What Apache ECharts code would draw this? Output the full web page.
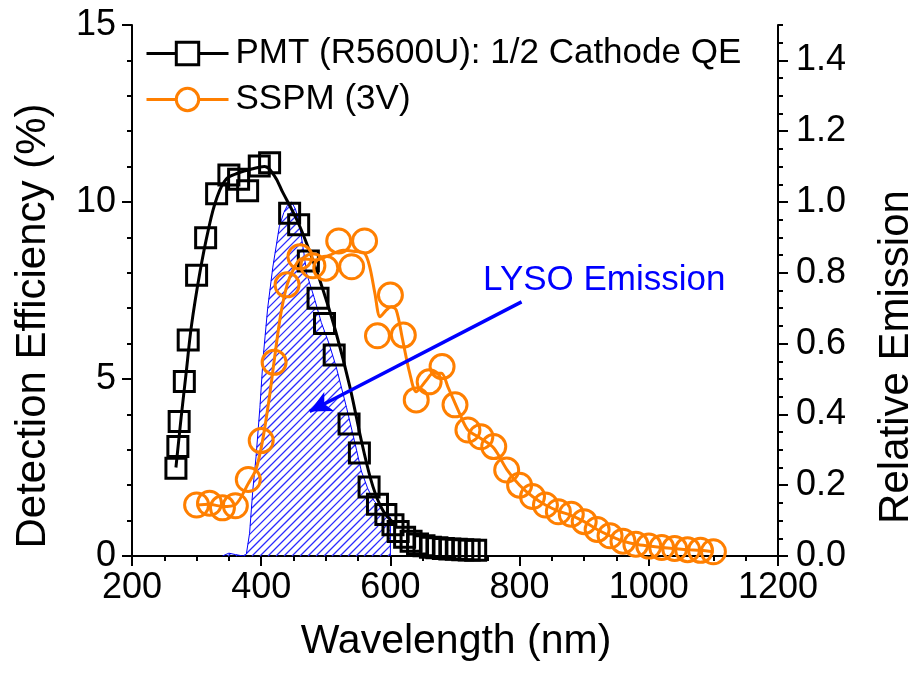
<!DOCTYPE html>
<html>
<head>
<meta charset="utf-8">
<script src="https://cdn.jsdelivr.net/npm/echarts@6/dist/echarts.min.js"></script>
<style>
  html, body { margin: 0; padding: 0; background: #ffffff; }
  #chart { width: 917px; height: 673px; }
</style>
</head>
<body>
<div id="chart"></div>
<script>
// PMT (R5600U) half cathode QE, measured points (nm, %)
const pmtWavelength = [268, 271, 273, 281, 287, 300, 314, 331, 350, 365, 379, 397, 413,
  444, 458, 473, 488, 498, 513, 536, 552, 567, 580, 593, 604, 612, 622, 632, 642, 652,
  662, 672, 682, 692, 702, 712, 722, 732];
const pmtQE = [2.48, 3.09, 3.80, 4.93, 6.10, 7.93, 8.99, 10.23, 10.76, 10.64, 10.32, 11.02, 11.11,
  9.68, 9.36, 8.33, 7.28, 6.57, 5.68, 3.73, 2.91, 1.95, 1.46, 1.17, 0.88, 0.69, 0.53, 0.42, 0.34, 0.29,
  0.25, 0.23, 0.21, 0.20, 0.19, 0.18, 0.17, 0.16];

// Smooth fit through the PMT points
const pmtFitWavelength = [268, 276, 284, 292, 305, 318, 331, 346, 365, 385, 405, 420, 434,
  447, 460, 475, 496, 516, 537, 557, 573, 588, 604];
const pmtFitQE = [2.5, 3.9, 5.2, 6.5, 8.0, 9.2, 10.1, 10.65, 10.82, 10.93, 11.0, 10.75, 10.25,
  9.8, 9.3, 8.6, 7.5, 6.3, 4.8, 3.1, 1.96, 1.3, 0.95];

// SSPM at 3 V bias, measured points (nm, %)
const sspmWavelength = [300, 320, 340, 360, 380, 400, 420, 440, 460, 480, 500, 520, 540, 560,
  580, 600, 620, 640, 660, 680, 700, 720, 740, 760, 780, 800, 820, 840, 860, 880, 900, 920,
  940, 960, 980, 1000, 1020, 1040, 1060, 1080, 1100];
const sspmPDE = [1.44, 1.49, 1.36, 1.42, 2.16, 3.26, 5.47, 7.66, 8.45, 8.2, 8.13, 8.9, 8.17, 8.9,
  6.22, 7.37, 6.24, 4.41, 4.92, 5.35, 4.27, 3.56, 3.37, 3.09, 2.43, 2.0, 1.68, 1.44, 1.25, 1.18,
  0.97, 0.75, 0.57, 0.42, 0.33, 0.28, 0.24, 0.21, 0.18, 0.16, 0.12];

// Smoothed SSPM trace
const sspmCurveWavelength = [300, 320, 340, 360, 380, 392, 402, 412, 420, 430, 440, 450, 462,
  485, 506, 527, 547, 560, 568, 576, 584, 594, 601, 609, 619, 630, 640, 656, 666, 679, 689, 707,
  720, 740, 760, 780, 800, 820, 840, 860, 880, 900, 920, 940, 960, 980, 1000, 1020, 1040, 1060,
  1080, 1100];
const sspmCurvePDE = [1.44, 1.46, 1.40, 1.45, 2.05, 2.45, 3.25, 4.4, 5.5, 6.8, 7.65, 8.1, 8.4,
  8.36, 8.5, 8.64, 8.6, 8.55, 8.17, 7.42, 6.76, 6.95, 7.04, 6.95, 6.1, 5.16, 4.64, 4.97, 5.16, 5.16,
  4.78, 4.03, 3.56, 3.32, 3.05, 2.45, 2.0, 1.68, 1.44, 1.27, 1.15, 0.97, 0.75, 0.57, 0.42, 0.33,
  0.28, 0.24, 0.21, 0.18, 0.16, 0.12];

// LYSO emission spectrum, relative units (right axis)
const lysoWavelength = [340, 350, 360, 372, 377, 382, 387, 392, 398, 403, 410, 418, 428, 435,
  441, 447, 453, 459, 467, 470, 482, 493, 505, 516, 532, 545, 555, 565, 575, 588, 600, 600];
const lysoEmission = [0, 0.008, 0.004, 0, 0.005, 0.064, 0.186, 0.28, 0.42, 0.56, 0.70, 0.816,
  0.93, 0.97, 0.992, 1.0, 0.98, 0.94, 0.845, 0.80, 0.73, 0.66, 0.60, 0.535, 0.42, 0.32, 0.24,
  0.19, 0.155, 0.13, 0.11, 0];

// Annotation anchors in data units (left axis)
const lysoLabelAt = [742.6, 7.8];
const lysoArrowFrom = [803, 7.18];
const lysoArrowTo = [475, 4.08];

const pmtName = 'PMT (R5600U): 1/2 Cathode QE';
const sspmName = 'SSPM (3V)';
const FONT = '"Liberation Sans", Arial, Helvetica, sans-serif';
const ORANGE = '#ff7f00';
const BLUE = '#0000ff';
const HATCH_BLUE = '#2b2bff';
const HATCH_STEP = 8;

function pairs(xs, ys) { return xs.map((x, i) => [x, ys[i]]); }

// Diagonal hatching clipped to the emission polygon (pixel space, from axis coords)
function renderHatch(params, api) {
  if (params.dataIndexInside !== 0) return null;
  const poly = lysoWavelength.map((x, i) => api.coord([x, lysoEmission[i]]));
  let kMin = Infinity, kMax = -Infinity;
  poly.forEach(p => { kMin = Math.min(kMin, p[0] + p[1]); kMax = Math.max(kMax, p[0] + p[1]); });
  const children = [];
  for (let k = Math.ceil(kMin / HATCH_STEP) * HATCH_STEP; k <= kMax; k += HATCH_STEP) {
    const hits = [];
    for (let i = 0; i < poly.length; i++) {
      const a = poly[i], b = poly[(i + 1) % poly.length];
      const sa = a[0] + a[1] - k, sb = b[0] + b[1] - k;
      if ((sa < 0) !== (sb < 0)) {
        const t = sa / (sa - sb);
        hits.push([a[0] + t * (b[0] - a[0]), a[1] + t * (b[1] - a[1])]);
      }
    }
    hits.sort((p, q) => p[0] - q[0]);
    for (let j = 0; j + 1 < hits.length; j += 2) {
      children.push({
        type: 'line',
        silent: true,
        shape: { x1: hits[j][0], y1: hits[j][1], x2: hits[j + 1][0], y2: hits[j + 1][1] },
        style: { stroke: HATCH_BLUE, lineWidth: 1.3, fill: null }
      });
    }
  }
  return { type: 'group', children };
}

const axisLine = { show: true, lineStyle: { color: '#000', width: 2 } };
const tickLabel = { color: '#000', fontSize: 36, fontFamily: FONT };

const chart = echarts.init(document.getElementById('chart'), null, { renderer: 'canvas' });

chart.setOption({
  animation: false,
  backgroundColor: '#ffffff',
  grid: { left: 132, right: 139, top: 25, bottom: 117, containLabel: false },
  legend: {
    orient: 'vertical',
    left: 145,
    top: 36,
    padding: 0,
    itemWidth: 82,
    itemHeight: 28,
    itemGap: 11,
    selectedMode: false,
    data: [pmtName, sspmName],
    itemStyle: { color: '#ffffff', borderWidth: 3 },
    lineStyle: { width: 3 },
    textStyle: { color: '#000', fontSize: 35, fontFamily: FONT, padding: [0, 0, 0, 2] }
  },
  xAxis: [
    {
      type: 'value', position: 'bottom', min: 200, max: 1200, interval: 200,
      axisLine,
      axisTick: { show: true, length: 10, lineStyle: { color: '#000', width: 2 } },
      minorTick: { show: true, splitNumber: 4, length: 5, lineStyle: { color: '#000', width: 2 } },
      axisLabel: Object.assign({ margin: 14, formatter: v => String(v) }, tickLabel),
      splitLine: { show: false }
    },
    {
      type: 'value', position: 'top', min: 200, max: 1200, interval: 200,
      axisLine,
      axisTick: { show: true, inside: true, length: 8, lineStyle: { color: '#000', width: 2 } },
      minorTick: { show: true, splitNumber: 4, length: 5, lineStyle: { color: '#000', width: 2 } },
      axisLabel: { show: false },
      splitLine: { show: false }
    }
  ],
  yAxis: [
    {
      type: 'value', position: 'left', min: 0, max: 15, interval: 5,
      axisLine,
      axisTick: { show: true, length: 10, lineStyle: { color: '#000', width: 2 } },
      minorTick: { show: true, splitNumber: 5, length: 5, lineStyle: { color: '#000', width: 2 } },
      axisLabel: Object.assign({ margin: 16, formatter: v => String(v) }, tickLabel),
      splitLine: { show: false }
    },
    {
      type: 'value', position: 'right', min: 0, max: 1.5, interval: 0.2,
      axisLine,
      axisTick: { show: true, length: 10, lineStyle: { color: '#000', width: 2 } },
      axisLabel: Object.assign({ margin: 18, showMaxLabel: false, formatter: v => v.toFixed(1) }, tickLabel),
      splitLine: { show: false }
    },
    {
      // finer ticks on the emission axis
      type: 'value', position: 'right', min: 0, max: 1.5, interval: 0.05,
      axisLine: { show: false },
      axisTick: { show: true, length: 5, lineStyle: { color: '#000', width: 2 } },
      axisLabel: { show: false },
      splitLine: { show: false }
    }
  ],
  graphic: [
    {
      type: 'text', x: 33, y: 326, rotation: Math.PI / 2,
      style: { text: 'Detection Efficiency (%)', fontSize: 42, fontFamily: FONT, fill: '#000', align: 'center', verticalAlign: 'middle' }
    },
    {
      type: 'text', x: 896, y: 357, rotation: Math.PI / 2,
      style: { text: 'Relative Emission', fontSize: 42, fontFamily: FONT, fill: '#000', align: 'center', verticalAlign: 'middle' }
    },
    {
      type: 'text', x: 456, y: 642,
      style: { text: 'Wavelength (nm)', fontSize: 41, fontFamily: FONT, fill: '#000', align: 'center', verticalAlign: 'middle' }
    }
  ],
  series: [
    {
      name: 'LYSO hatch',
      type: 'custom',
      xAxisIndex: 0, yAxisIndex: 1,
      data: pairs(lysoWavelength, lysoEmission),
      renderItem: renderHatch,
      itemStyle: { color: HATCH_BLUE },
      silent: true,
      z: 1
    },
    {
      name: 'LYSO Emission',
      type: 'line',
      xAxisIndex: 0, yAxisIndex: 1,
      data: pairs(lysoWavelength, lysoEmission),
      smooth: false,
      showSymbol: false,
      symbol: 'none',
      lineStyle: { color: BLUE, width: 1 },
      emphasis: { disabled: true },
      silent: true,
      z: 1
    },
    {
      name: pmtName,
      type: 'line',
      xAxisIndex: 0, yAxisIndex: 0,
      data: pairs(pmtFitWavelength, pmtFitQE),
      smooth: 0.4,
      showSymbol: false,
      symbol: 'rect',
      itemStyle: { color: 'rgba(0,0,0,0)', borderColor: '#000', borderWidth: 3 },
      lineStyle: { color: '#000', width: 3 },
      emphasis: { disabled: true },
      silent: true,
      z: 2
    },
    {
      name: pmtName,
      type: 'scatter',
      xAxisIndex: 0, yAxisIndex: 0,
      data: pairs(pmtWavelength, pmtQE),
      symbol: 'rect',
      symbolSize: 20,
      itemStyle: { color: 'rgba(0,0,0,0)', borderColor: '#000', borderWidth: 3, opacity: 1 },
      emphasis: { disabled: true },
      silent: true,
      z: 3
    },
    {
      name: sspmName,
      type: 'line',
      xAxisIndex: 0, yAxisIndex: 0,
      data: pairs(sspmCurveWavelength, sspmCurvePDE),
      smooth: 0.3,
      showSymbol: false,
      symbol: 'circle',
      itemStyle: { color: 'rgba(0,0,0,0)', borderColor: ORANGE, borderWidth: 3 },
      lineStyle: { color: ORANGE, width: 3 },
      emphasis: { disabled: true },
      silent: true,
      z: 4,
      markLine: {
        silent: true,
        symbol: ['none', 'arrow'],
        symbolSize: [16, 22],
        label: { show: false },
        lineStyle: { color: BLUE, width: 3.5, type: 'solid' },
        emphasis: { disabled: true },
        data: [[{ coord: lysoArrowFrom }, { coord: lysoArrowTo }]]
      },
      markPoint: {
        silent: true,
        symbol: 'circle',
        symbolSize: 1,
        itemStyle: { color: 'rgba(0,0,0,0)' },
        label: {
          show: true, position: 'right', distance: 0,
          formatter: 'LYSO Emission',
          color: BLUE, fontSize: 35, fontFamily: FONT
        },
        data: [{ coord: lysoLabelAt }]
      }
    },
    {
      name: sspmName,
      type: 'scatter',
      xAxisIndex: 0, yAxisIndex: 0,
      data: pairs(sspmWavelength, sspmPDE),
      symbol: 'circle',
      symbolSize: 24,
      itemStyle: { color: 'rgba(0,0,0,0)', borderColor: ORANGE, borderWidth: 3, opacity: 1 },
      emphasis: { disabled: true },
      silent: true,
      z: 4
    }
  ]
});
</script>
</body>
</html>
